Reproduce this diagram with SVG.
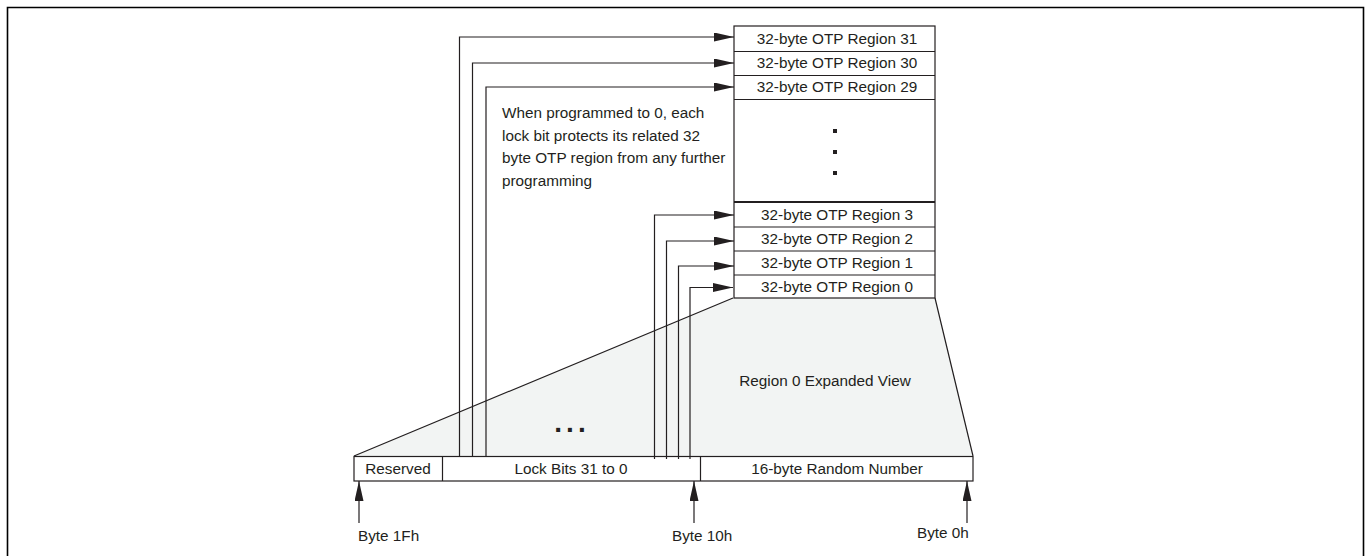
<svg xmlns="http://www.w3.org/2000/svg" width="1369" height="556" viewBox="0 0 1369 556">
<style>
.t{font-family:"Liberation Sans",Arial,sans-serif;font-size:15.3px;fill:#231f20}
.c{text-anchor:middle}
.s{fill:none;stroke:#231f20;stroke-width:1.2}
.w{fill:#fff;stroke:#231f20;stroke-width:1.2}
.d{font-family:"Liberation Sans",Arial,sans-serif;font-weight:bold;font-size:28px;fill:#231f20;text-anchor:middle}
.v{fill:#231f20}
</style>
<defs>
<marker id="ah" markerUnits="userSpaceOnUse" viewBox="0 0 20 9" markerWidth="20" markerHeight="9" refX="20" refY="4.5" orient="auto">
<path d="M0,0 L20,4.5 L0,9 Z" fill="#231f20"/>
</marker>
</defs>
<rect width="1369" height="556" fill="#fff"/>
<path d="M7.5,560 V7.5 H1363.5 V560" fill="none" stroke="#000" stroke-width="1.6"/>
<g id="expanded">
<polygon points="733,298 935,298 973,456 354,456" fill="#f2f4f3"/>
<path class="s" d="M354,456 L733,298 M935,298 L973,456"/>
<text class="t c" x="825" y="386">Region 0 Expanded View</text>
<text class="d" x="572" y="432" letter-spacing="4">...</text>
</g>
<g id="otp-stack">
<rect class="w" x="734" y="26" width="201" height="272"/>
<path class="s" d="M734,51.5 H935 M734,75.5 H935 M734,99.5 H935 M734,227 H935 M734,251 H935 M734,275 H935"/>
<path d="M734,202 H935" stroke="#231f20" stroke-width="2.2"/>
<text class="t c" x="837" y="44">32-byte OTP Region 31</text>
<text class="t c" x="837" y="68">32-byte OTP Region 30</text>
<text class="t c" x="837" y="92">32-byte OTP Region 29</text>
<rect class="v" x="833" y="129" width="4" height="4"/>
<rect class="v" x="833" y="150" width="4" height="4"/>
<rect class="v" x="833" y="171" width="4" height="4"/>
<text class="t c" x="837" y="220">32-byte OTP Region 3</text>
<text class="t c" x="837" y="244">32-byte OTP Region 2</text>
<text class="t c" x="837" y="268">32-byte OTP Region 1</text>
<text class="t c" x="837" y="292">32-byte OTP Region 0</text>
</g>
<g id="note">
<text class="t" x="502" y="118">When programmed to 0, each</text>
<text class="t" x="502" y="140.5">lock bit protects its related 32</text>
<text class="t" x="502" y="163">byte OTP region from any further</text>
<text class="t" x="502" y="185.5">programming</text>
</g>
<g id="byte-bar">
<rect class="w" x="354" y="456.5" width="619" height="24.5"/>
<path class="s" d="M442.5,456.5 V481 M700.5,456.5 V481"/>
<text class="t c" x="398" y="474">Reserved</text>
<text class="t c" x="571" y="474">Lock Bits 31 to 0</text>
<text class="t c" x="837" y="474">16-byte Random Number</text>
</g>
<g id="connectors">
<path class="s" marker-end="url(#ah)" d="M459.5,456 V37 H734"/>
<path class="s" marker-end="url(#ah)" d="M472.5,456 V63 H734"/>
<path class="s" marker-end="url(#ah)" d="M486,456 V87 H734"/>
<path class="s" marker-end="url(#ah)" d="M654.5,459 V215 H734"/>
<path class="s" marker-end="url(#ah)" d="M666.5,459 V241 H734"/>
<path class="s" marker-end="url(#ah)" d="M678.5,459 V266 H734"/>
<path class="s" marker-end="url(#ah)" d="M690,459 V287.5 H733"/>
<path class="s" marker-end="url(#ah)" d="M359,523 V481"/>
<path class="s" marker-end="url(#ah)" d="M694,523 V481"/>
<path class="s" marker-end="url(#ah)" d="M967,523 V481"/>
</g>
<g id="labels">
<text class="t" x="358" y="541">Byte 1Fh</text>
<text class="t" x="672" y="541">Byte 10h</text>
<text class="t" x="917" y="538">Byte 0h</text>
</g>
</svg>
